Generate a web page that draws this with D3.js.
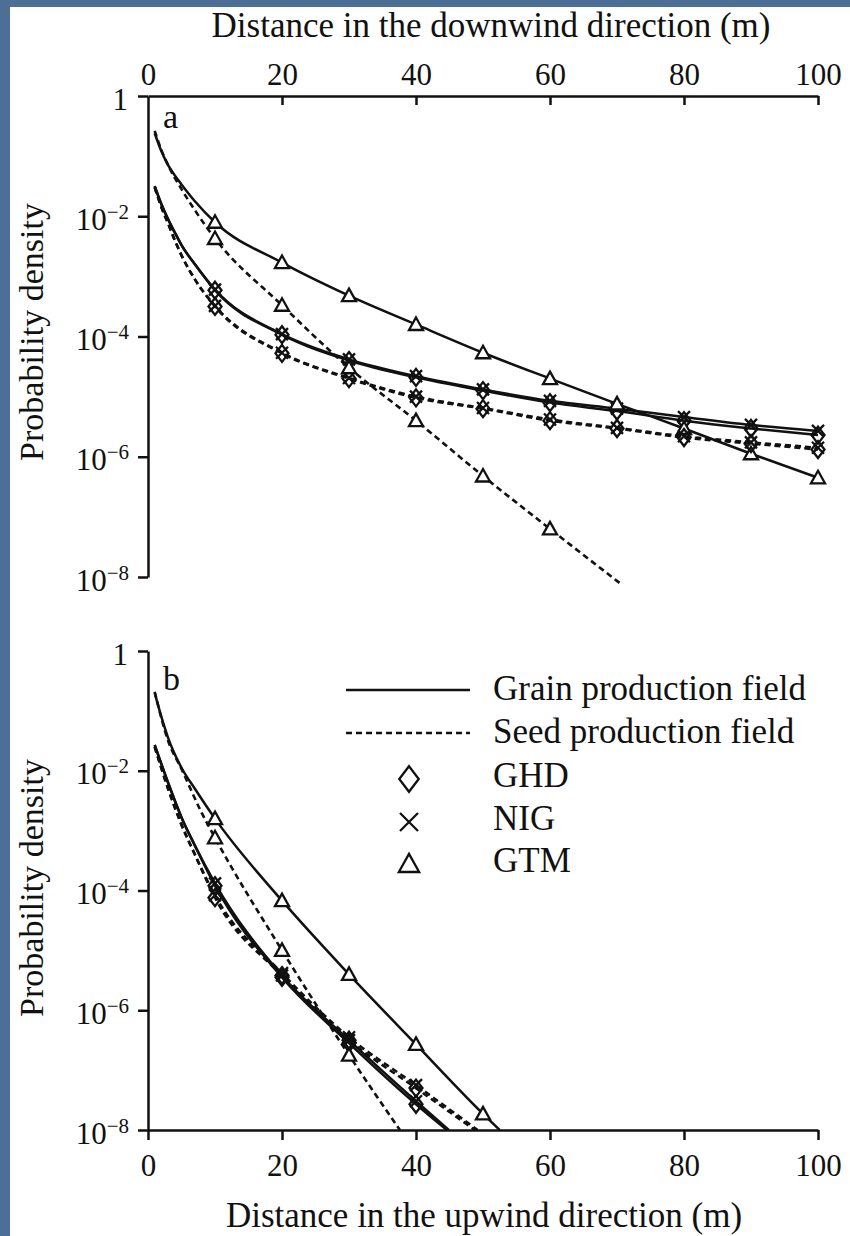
<!DOCTYPE html>
<html>
<head>
<meta charset="utf-8">
<script src="https://cdn.jsdelivr.net/npm/d3@7"></script>
<style>
  body { margin: 0; padding: 0; overflow: hidden; }
  svg { display: block; }
  text { font-family: "Liberation Serif", "Times New Roman", serif; fill: #111; }
</style>
</head>
<body>
<div id="chart"></div>
<script>
// Chart size = window size
const width = 850;
const height = 1236;

// Tick values
const xTicks = [0, 20, 40, 60, 80, 100];
const yTicks = [1, 1e-2, 1e-4, 1e-6, 1e-8];
const yTickExp = ["", "\u22122", "\u22124", "\u22126", "\u22128"];
const markerDist = [10, 20, 30, 40, 50, 60, 70, 80, 90, 100];

// Panel a: downwind. Values are log10 of probability density
const distA = [1, 2, 3, 4, 5, 7, 10, 20, 30, 40, 50, 60, 70, 80, 90, 100];
const grainGHD_a = [-1.5, -1.8, -2.05, -2.27, -2.48, -2.8, -3.23, -3.97, -4.4, -4.68, -4.9, -5.1, -5.24, -5.4, -5.53, -5.64];
const grainNIG_a = [-1.5, -1.8, -2.05, -2.27, -2.48, -2.8, -3.22, -3.96, -4.38, -4.66, -4.88, -5.07, -5.2, -5.34, -5.47, -5.57];
const grainGTM_a = [-0.62, -0.92, -1.15, -1.32, -1.47, -1.75, -2.1, -2.77, -3.32, -3.8, -4.27, -4.7, -5.12, -5.53, -5.95, -6.35];
const seedGHD_a = [-1.52, -1.85, -2.12, -2.4, -2.65, -3.05, -3.5, -4.28, -4.7, -5.02, -5.2, -5.4, -5.53, -5.68, -5.78, -5.88];
const seedNIG_a = [-1.52, -1.85, -2.12, -2.4, -2.65, -3.05, -3.49, -4.27, -4.69, -5.0, -5.19, -5.38, -5.52, -5.66, -5.76, -5.85];
const distSeedGTM_a = [1, 2, 3, 5, 7, 10, 20, 30, 40, 50, 60, 70.4];
const seedGTM_a = [-0.58, -0.9, -1.15, -1.55, -1.9, -2.37, -3.48, -4.52, -5.4, -6.32, -7.2, -8.1];

// Panel b: upwind
const distGrainGHD_b = [1, 3, 5, 7, 10, 20, 30, 40, 44.6];
const grainGHD_b = [-1.57, -2.2, -2.78, -3.25, -3.92, -5.45, -6.55, -7.57, -8];
const distGrainNIG_b = [1, 3, 5, 7, 10, 20, 30, 40, 44.9];
const grainNIG_b = [-1.57, -2.2, -2.78, -3.25, -3.88, -5.42, -6.5, -7.52, -8];
const distSeedGHD_b = [1, 3, 5, 7, 10, 20, 30, 40, 48.8];
const seedGHD_b = [-1.6, -2.3, -2.9, -3.4, -4.12, -5.42, -6.5, -7.3, -8];
const distSeedNIG_b = [1, 3, 5, 7, 10, 20, 30, 40, 49.2];
const seedNIG_b = [-1.6, -2.3, -2.9, -3.4, -4.08, -5.38, -6.45, -7.25, -8];
const distGrainGTM_b = [1, 2, 3, 5, 7, 10, 20, 30, 40, 50, 52.5];
const grainGTM_b = [-0.7, -1.1, -1.45, -1.95, -2.3, -2.8, -4.17, -5.4, -6.57, -7.73, -8];
const distSeedGTM_b = [1, 3, 5, 8, 10, 20, 30, 37.6];
const seedGTM_b = [-0.68, -1.5, -1.97, -2.7, -3.12, -5.0, -6.75, -8];

function pairs(xs, ys) {
  return xs.map((x, i) => ({ x: x, y: Math.pow(10, ys[i]) }));
}

const panelA = [
  { field: 'grain', model: 'GHD', pts: pairs(distA, grainGHD_a) },
  { field: 'grain', model: 'NIG', pts: pairs(distA, grainNIG_a) },
  { field: 'grain', model: 'GTM', pts: pairs(distA, grainGTM_a) },
  { field: 'seed', model: 'GHD', pts: pairs(distA, seedGHD_a) },
  { field: 'seed', model: 'NIG', pts: pairs(distA, seedNIG_a) },
  { field: 'seed', model: 'GTM', pts: pairs(distSeedGTM_a, seedGTM_a) }
];
const panelB = [
  { field: 'grain', model: 'GHD', pts: pairs(distGrainGHD_b, grainGHD_b) },
  { field: 'grain', model: 'NIG', pts: pairs(distGrainNIG_b, grainNIG_b) },
  { field: 'grain', model: 'GTM', pts: pairs(distGrainGTM_b, grainGTM_b) },
  { field: 'seed', model: 'GHD', pts: pairs(distSeedGHD_b, seedGHD_b) },
  { field: 'seed', model: 'NIG', pts: pairs(distSeedNIG_b, seedNIG_b) },
  { field: 'seed', model: 'GTM', pts: pairs(distSeedGTM_b, seedGTM_b) }
];

const svg = d3.select('#chart')
  .append('svg')
  .attr('width', width)
  .attr('height', height);

// Slide background: blue strip on the left and top, white page
svg.append('rect').attr('width', width).attr('height', height).attr('fill', '#4d6e97');
svg.append('rect').attr('x', 10).attr('y', 7).attr('width', width - 10).attr('height', height - 7).attr('fill', '#fff');

const x = d3.scaleLinear().domain([0, 100]).range([148, 818]);
const yA = d3.scaleLog().domain([1e-8, 1]).range([577, 96]);
const yB = d3.scaleLog().domain([1e-8, 1]).range([1130, 651]);

// marker shapes
function markerPath(model, k) {
  k = k || 1;
  if (model === 'GHD') return `M0,${-8.5 * k}L${6.5 * k},0L0,${8.5 * k}L${-6.5 * k},0Z`;
  if (model === 'NIG') return `M${-6 * k},${-6 * k}L${6 * k},${6 * k}M${-6 * k},${6 * k}L${6 * k},${-6 * k}`;
  return `M0,${-7 * k}L${7 * k},${5.5 * k}L${-7 * k},${5.5 * k}Z`;
}

function drawPanel(series, y, clip) {
  const g = svg.append('g');
  const line = d3.line()
    .x(d => x(d.x))
    .y(d => y(d.y))
    .curve(d3.curveMonotoneX);

  const lines = g.append('g');
  if (clip) lines.attr('clip-path', 'url(#' + clip + ')');
  series.forEach(s => {
    lines.append('path')
      .datum(s.pts)
      .attr('d', line)
      .attr('fill', 'none')
      .attr('stroke', '#111')
      .attr('stroke-width', s.field === 'grain' ? 2.5 : 2.6)
      .attr('stroke-dasharray', s.field === 'seed' ? '6,4' : null);
  });

  series.forEach(s => {
    const pts = s.pts.filter(p => markerDist.includes(p.x));
    g.append('g').selectAll('path')
      .data(pts)
      .join('path')
      .attr('transform', d => `translate(${x(d.x)},${y(d.y)})`)
      .attr('d', markerPath(s.model))
      .attr('fill', s.model === 'GTM' ? '#fff' : 'none')
      .attr('stroke', '#111')
      .attr('stroke-width', 2.3);
  });
  return g;
}

function styleAxis(g) {
  g.select('.domain').attr('stroke', '#111').attr('stroke-width', 2.5);
  g.selectAll('.tick line').attr('stroke', '#111').attr('stroke-width', 2.5);
  g.selectAll('.tick text')
    .attr('fill', '#111')
    .style('font-family', '"Liberation Serif", serif')
    .style('font-size', '31px');
}

function yAxis(y) {
  const g = svg.append('g')
    .attr('transform', 'translate(148,0)')
    .call(d3.axisLeft(y).tickValues(yTicks).tickSizeInner(10).tickSizeOuter(0).tickPadding(9));
  styleAxis(g);
  g.selectAll('.tick text').each(function(d, i) {
    const t = d3.select(this).text('').attr('dy', '0.42em');
    if (i === 0) {
      t.attr('dx', '-1px').append('tspan').text('1');
    } else {
      t.append('tspan').text('10');
      t.append('tspan').attr('dy', '-11').style('font-size', '21px').text(yTickExp[i]);
    }
  });
  return g;
}

// clip for panel b (everything ends on the 10^-8 axis)
svg.append('clipPath').attr('id', 'clipB')
  .append('rect').attr('x', 148).attr('y', 640).attr('width', 680).attr('height', 1130 - 640);

drawPanel(panelA, yA, null);
drawPanel(panelB, yB, 'clipB');

// Panel a axes: x on top, ticks inside
const xTop = svg.append('g')
  .attr('transform', 'translate(0,96)')
  .call(d3.axisTop(x).tickValues(xTicks).tickSizeInner(-9).tickSizeOuter(0).tickPadding(11));
styleAxis(xTop);
xTop.selectAll('.tick').filter(d => d === 0).select('line').remove();
yAxis(yA);

// Panel b axes: x at bottom
const xBottom = svg.append('g')
  .attr('transform', 'translate(0,1130)')
  .call(d3.axisBottom(x).tickValues(xTicks).tickSizeInner(10).tickSizeOuter(0).tickPadding(14));
styleAxis(xBottom);
yAxis(yB);

// Axis titles
svg.append('text')
  .attr('x', 491).attr('y', 37)
  .attr('text-anchor', 'middle')
  .style('font-size', '35px')
  .text('Distance in the downwind direction (m)');

svg.append('text')
  .attr('x', 484).attr('y', 1227)
  .attr('text-anchor', 'middle')
  .style('font-size', '35px')
  .text('Distance in the upwind direction (m)');

[332, 888].forEach(cy => {
  svg.append('text')
    .attr('transform', `translate(43,${cy}) rotate(-90)`)
    .attr('text-anchor', 'middle')
    .style('font-size', '34px')
    .text('Probability density');
});

// Panel letters
svg.append('text').attr('x', 163).attr('y', 128).style('font-size', '34px').text('a');
svg.append('text').attr('x', 163).attr('y', 690).style('font-size', '34px').text('b');

// Legend
const legendLines = [
  { label: 'Grain production field', dash: null, y: 700 },
  { label: 'Seed production field', dash: '6,4', y: 743 }
];
const legendMarks = [
  { label: 'GHD', model: 'GHD', y: 787, k: 1.5 },
  { label: 'NIG', model: 'NIG', y: 830, k: 1.5 },
  { label: 'GTM', model: 'GTM', y: 872, k: 1.45 }
];
const legend = svg.append('g');
legendLines.forEach(d => {
  legend.append('line')
    .attr('x1', 346).attr('x2', 470)
    .attr('y1', d.y - 10).attr('y2', d.y - 10)
    .attr('stroke', '#111').attr('stroke-width', 2.5)
    .attr('stroke-dasharray', d.dash);
  legend.append('text').attr('x', 493).attr('y', d.y).style('font-size', '35px').text(d.label);
});
legendMarks.forEach(d => {
  legend.append('path')
    .attr('transform', `translate(409,${d.y - 8})`)
    .attr('d', markerPath(d.model, d.k))
    .attr('fill', 'none')
    .attr('stroke', '#111')
    .attr('stroke-width', 2.3);
  legend.append('text').attr('x', 493).attr('y', d.y).style('font-size', '35px').text(d.label);
});
</script>
</body>
</html>
